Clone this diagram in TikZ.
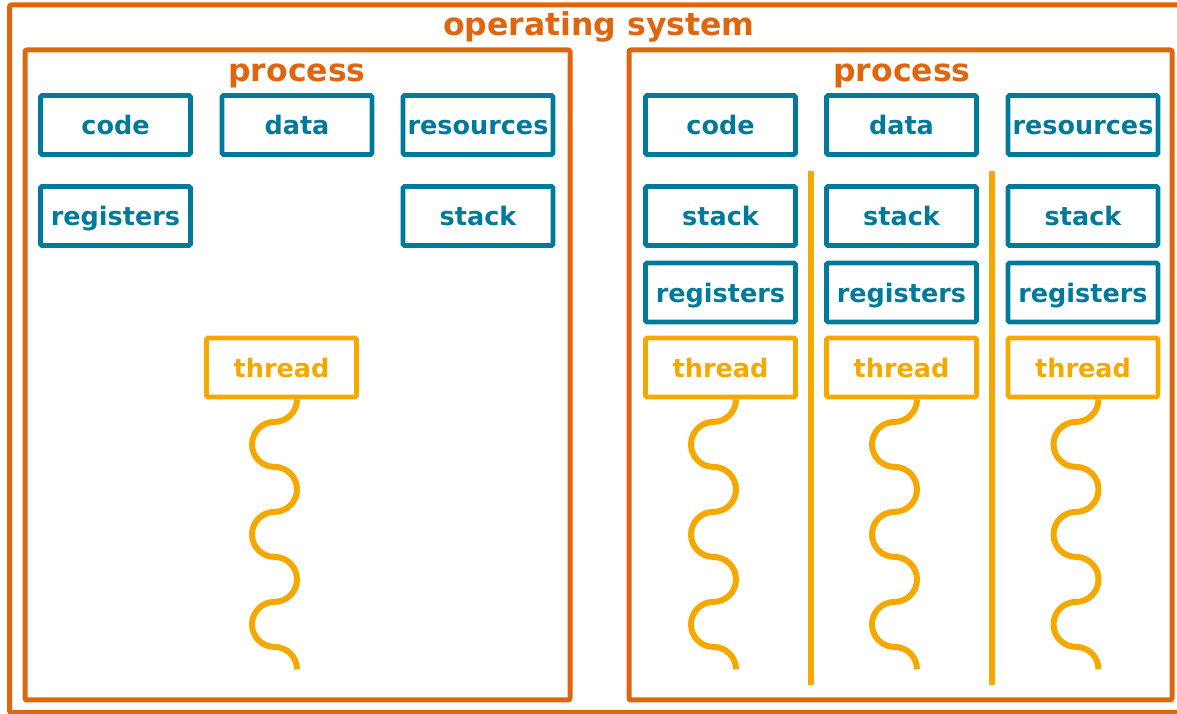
\documentclass[tikz,border=0pt]{standalone}
\usepackage{fontspec}
\setmainfont{DejaVu Sans}
\usetikzlibrary{positioning}
\definecolor{osorange}{HTML}{E0650F}
\definecolor{partblue}{HTML}{007A9B}
\definecolor{threadgold}{HTML}{F5A800}

\begin{document}
\begin{tikzpicture}[x=1pt, y=1pt,
  frame/.style={draw=osorange, line width=5pt, rounded corners=2pt, inner sep=0pt},
  title/.style={text=osorange, font=\fontsize{31.5}{36}\selectfont\bfseries, anchor=base, inner sep=0pt},
  part/.style={draw=partblue, line width=4.8pt, rounded corners=1.5pt, minimum width=150pt, minimum height=59pt, inner sep=0pt, text height=20pt, text depth=0pt, text=partblue, font=\fontsize{25.5}{30}\selectfont\bfseries},
  threadbox/.style={part, draw=threadgold, text=threadgold},
  wave/.style={draw=threadgold, line width=6pt},
  divider/.style={draw=threadgold, line width=6pt}
]
\useasboundingbox (0,0) rectangle (1177,714);

% operating system
\node[frame, minimum width=1180.5pt, minimum height=707.5pt] (os) at (599.75,355.25) {};
\node[title] (osTitle) at (599,678) {operating system};

% single-threaded process
\node[frame, minimum width=545pt, minimum height=650pt] (procA) at (297.5,339) {};
\node[title] (procAtitle) at (297,632) {process};
\node[part] (codeA) at (115.5,589) {code};
\node[part] (dataA) at (297,589) {data};
\node[part] (resA) at (478,589) {resources};
\node[part] (regA) at (115.5,498) {registers};
\node[part] (stackA) at (478,498) {stack};
\node[threadbox] (threadA) at (281.5,346.5) {thread};

% multi-threaded process
\node[frame, minimum width=543pt, minimum height=650pt] (procB) at (900.5,339) {};
\node[title] (procBtitle) at (902,632) {process};
\node[part] (codeB) at (720.5,589) {code};
\node[part] (dataB) at (901.5,589) {data};
\node[part] (resB) at (1083,589) {resources};
\node[part] (stackB1) at (720.5,498) {stack};
\node[part] (stackB2) at (901.5,498) {stack};
\node[part] (stackB3) at (1083,498) {stack};
\node[part] (regB1) at (720.5,421.5) {registers};
\node[part] (regB2) at (901.5,421.5) {registers};
\node[part] (regB3) at (1083,421.5) {registers};
\node[threadbox] (threadB1) at (720.5,346.5) {thread};
\node[threadbox] (threadB2) at (901.5,346.5) {thread};
\node[threadbox] (threadB3) at (1083,346.5) {thread};

% separators between threads
\coordinate (sepAtop) at (810.5,543);
\coordinate (sepAbot) at (810.5,29);
\coordinate (sepBtop) at (991.5,543);
\coordinate (sepBbot) at (991.5,29);
\draw[divider] (sepAtop) -- (sepAbot);
\draw[divider] (sepBtop) -- (sepBbot);

% wavy threads
\foreach \t in {threadA, threadB1, threadB2, threadB3}
  \draw[wave] ([xshift=15.5pt]\t.south) arc (0:-90:22.5pt)
    arc (90:270:22.5pt) arc (90:-90:22.5pt)
    arc (90:270:22.5pt) arc (90:-90:22.5pt)
    arc (90:270:22.5pt) arc (90:0:22.5pt);
\end{tikzpicture}
\end{document}
